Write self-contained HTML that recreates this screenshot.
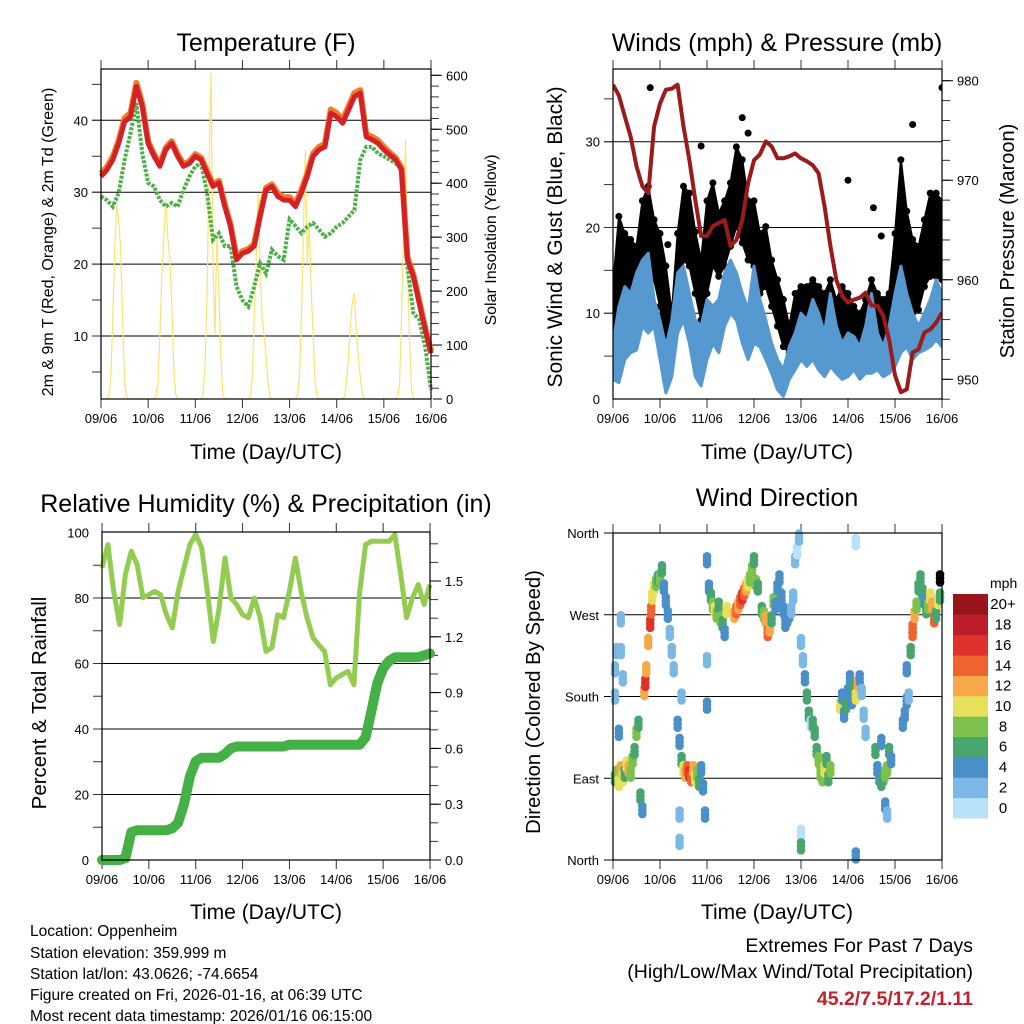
<!DOCTYPE html>
<html><head><meta charset="utf-8"><style>
html,body{margin:0;padding:0;background:#fff}
svg{display:block;font-family:"Liberation Sans",Arial,sans-serif}
</style></head><body>
<svg id="s" width="1024" height="1024" viewBox="0 0 1024 1024" xmlns="http://www.w3.org/2000/svg">
<rect width="1024" height="1024" fill="#fff"/>
<text x="266" y="51" font-size="25" text-anchor="middle">Temperature (F)</text>
<text x="777" y="51" font-size="25" text-anchor="middle">Winds (mph) &amp; Pressure (mb)</text>
<text x="266" y="512" font-size="25" text-anchor="middle">Relative Humidity (%) &amp; Precipitation (in)</text>
<text x="777" y="506" font-size="25" text-anchor="middle">Wind Direction</text>
<text x="266" y="459" font-size="21" text-anchor="middle">Time (Day/UTC)</text>
<text x="777" y="459" font-size="21" text-anchor="middle">Time (Day/UTC)</text>
<text x="266" y="919" font-size="21" text-anchor="middle">Time (Day/UTC)</text>
<text x="777" y="919" font-size="21" text-anchor="middle">Time (Day/UTC)</text>
<text transform="translate(53,242) rotate(-90)" font-size="16" text-anchor="middle">2m &amp; 9m T (Red, Orange) &amp; 2m Td (Green)</text>
<text transform="translate(496,240) rotate(-90)" font-size="16" text-anchor="middle">Solar Insolation (Yellow)</text>
<text transform="translate(562,237) rotate(-90)" font-size="21" text-anchor="middle">Sonic Wind &amp; Gust (Blue, Black)</text>
<text transform="translate(1014,241) rotate(-90)" font-size="20" text-anchor="middle">Station Pressure (Maroon)</text>
<text transform="translate(46,703) rotate(-90)" font-size="20.5" text-anchor="middle">Percent &amp; Total Rainfall</text>
<text transform="translate(540,702) rotate(-90)" font-size="20.3" text-anchor="middle">Direction (Colored By Speed)</text>
<g font-size="15.5">
<text x="30" y="936">Location: Oppenheim</text>
<text x="30" y="958">Station elevation: 359.999 m</text>
<text x="30" y="979">Station lat/lon: 43.0626; -74.6654</text>
<text x="30" y="1000">Figure created on Fri, 2026-01-16, at 06:39 UTC</text>
<text x="30" y="1021">Most recent data timestamp: 2026/01/16 06:15:00</text>
</g>
<g font-size="19.5" text-anchor="end">
<text x="973" y="952">Extremes For Past 7 Days</text>
<text x="973" y="978">(High/Low/Max Wind/Total Precipitation)</text>
<text x="973" y="1005" fill="#c8202a" font-weight="bold">45.2/7.5/17.2/1.11</text>
</g>
</svg>
<script>
const hours3=[0,3,6,9,12,15,18,21,24,27,30,33,36,39,42,45,48,51,54,57,60,63,66,69,72,75,78,81,84,87,90,93,96,99,102,105,108,111,114,117,120,123,126,129,132,135,138,141,144,147,150,153,156,159,162,165,168];
const dayLabels=["09/06","10/06","11/06","12/06","13/06","14/06","15/06","16/06"];
const temp2m=[32.2,33.1,34.5,36.8,39.8,40.5,44.7,41.9,36.8,35,33.6,35.9,36.8,35,33.6,34,35,34.5,32.6,30.8,31.3,28,25.2,20.6,21.5,21.8,22.5,26.6,30.3,30.8,29.4,28.9,28.9,28,29.9,32.2,35,35.9,36.3,41,40.5,39.6,41.4,43.3,43.8,37.7,37.3,36.8,35.9,35.2,34.5,33.1,20.6,18.3,14.6,10.9,7.6];
const temp9m=[32.6,33.5,34.9,37.2,40.3,41,45.2,42.3,37.1,35.3,33.9,36.2,37.1,35.3,33.9,34.3,35.3,34.8,32.9,31.1,31.6,28.3,25.5,20.9,21.8,22.1,22.8,26.9,30.6,31.1,29.8,29.3,29.3,28.4,30.3,32.6,35.4,36.3,36.7,41.5,41,40.1,41.9,43.8,44.2,38.1,37.7,37.2,36.3,35.5,34.8,33.4,21,18.6,14.9,11.2,7.9];
const dewpoint=[29.4,28.9,28,29.9,34.5,38.2,42.4,35.4,31.3,30.8,28.9,28,28.5,28,30.3,32.2,33.6,34,29.9,23.4,24.3,22.5,22.5,16.9,15,14.1,16.9,20.1,18.7,22,21.1,20.6,26.2,25.3,24.3,25.2,25.7,24.8,23.8,24.3,25.2,25.7,26.6,27.5,34.5,36.3,36.3,35.4,35,34.5,34,33.6,19.7,13.2,12.3,8.6,2.5];
const solar=[0,0,0,0,5,40,150,280,360,330,280,150,30,5,0,0,0,0,0,0,0,0,0,0,0,0,0,0,5,30,120,230,300,370,300,260,180,60,10,0,0,0,0,0,0,0,0,0,0,0,0,0,10,60,200,420,604,250,120,300,200,80,10,0,0,0,0,0,0,0,0,0,0,0,0,0,5,40,150,260,381,250,150,120,80,30,5,0,0,0,0,0,0,0,0,0,0,0,0,0,5,40,150,300,462,250,330,200,120,30,5,0,0,0,0,0,0,0,0,0,0,0,0,0,5,30,80,140,180,196,120,80,40,10,0,0,0,0,0,0,0,0,0,0,0,0,0,0,0,0,0,5,30,150,300,480,250,120,20,0,0,0,0,0,0,0,0,0,0,0];
const pressure=[979.6,978.5,976.4,974.4,971.4,969.4,968.7,975.4,977.7,979.1,979.2,979.6,975.4,972,968,964.4,964.4,965.4,965.7,966,963.4,964,966,969.7,972,972.6,973.9,973.4,972.2,972.2,972.4,972.7,972.2,971.9,971.5,970.7,967.4,963.4,960,958.4,957.7,958,958.2,958.7,957.4,957.4,956.4,954,950.4,948.7,949,952.7,953,954.7,955,955.7,956.7];
const windLo=[2.3,1.9,4.6,5.4,5.7,8.5,7.7,8.5,4.6,0.7,2.6,7.7,9.2,6.5,2.6,1.5,4.6,6.5,5.4,8.5,10,9.2,6.5,4.6,6.5,6.1,4.6,3,1.1,0.3,2.3,3.4,4.6,3.8,4.6,3.4,2.6,3.8,3,2.3,2.6,3.4,2.3,3,3,3.4,2.6,3,3.8,5.4,6.1,4.6,5.4,5.7,6.1,6.9,6.1];
const windHi=[6.5,10.8,13.1,12.3,14.7,16.2,17,11.6,9.2,6.1,9.2,14.7,15.5,12.3,9.2,8.5,11.6,10.8,11.6,14.7,16.2,14.7,12.3,10.4,15.5,11.6,9.2,6.5,4.6,3.4,6.1,7.7,10,9.2,11.6,10,7.7,12.3,8.5,6.5,7.7,7.3,6.1,8.5,12.3,7.7,6.1,8.5,12.3,15.5,12.3,10,8.5,10,11.6,13.9,12.3];
const gustLo=[4.6,7.7,10,11.6,12.3,14.3,16.2,13.9,10.8,5.4,4.6,12.3,16.2,15.5,12.3,9.2,12.3,15.5,14.3,15.5,17.8,20.1,18.2,16.2,15.5,12.3,13.1,10.8,8.5,6.1,5.4,7.7,8.5,8.5,9.2,8.5,7.7,8.5,6.9,7.3,7.7,7.7,6.5,6.1,7.7,6.5,6.5,7.3,9.2,14.3,12.3,10,10.4,13.1,14.3,14.3,13.9];
const gustHi=[13.1,21.3,19.3,18.6,17.8,23.1,24.8,20.9,19.3,15.5,10,19.3,24.8,24,19.5,16.2,23.1,25.2,21.7,23.1,25.2,29.4,27.9,23.1,23.1,19.3,20.1,16.2,13.9,11.6,8.5,12.3,13.1,13.1,13.9,13.1,12.3,13.9,11.6,13.1,12.3,10.8,10,11.6,13.9,12.3,11.6,12.3,19.3,27.9,21.9,18.6,17.8,20.9,24,24,23.1];
const gustOutlierHours=[19,45,66,69,120,133,153,168,28,137];
const gustOutlierValues=[36.3,29.5,32.8,31,25.5,22.3,32,36.3,18,19];
const rhPercent=[89.2,96.3,82,71.9,87.2,94.3,90.2,80.1,81,82,81,74.9,70.9,82,89.2,96.3,99.4,95.4,82,66.7,76.9,92.2,80,78,74.9,74,80,74,63.7,64.8,74.9,74,82,92.2,82,74,67.9,65.7,63.7,53.5,55.6,56.6,57.6,53.5,82,96.3,97.3,97.3,97.3,97.3,99.4,87.2,74,80,84.1,78,84.1];
const rainTotal=[0,0,0,0,0.01,0.15,0.16,0.16,0.16,0.16,0.16,0.16,0.17,0.2,0.3,0.45,0.53,0.55,0.55,0.55,0.55,0.57,0.6,0.61,0.61,0.61,0.61,0.61,0.61,0.61,0.61,0.61,0.62,0.62,0.62,0.62,0.62,0.62,0.62,0.62,0.62,0.62,0.62,0.62,0.62,0.66,0.8,0.95,1.03,1.07,1.09,1.09,1.09,1.09,1.09,1.1,1.11];
const dirHours=[1,2,3,4,5,6,7,8,9,10,11,12,13,14,15,1,2,4,4,1,5,3,16,16.5,17,18,19,19.5,20,21,22,23,24,25,26,27,28,29,30,31,33,34,35,36,37,38,39,40,41,42,43,44,45,46,47,34,34,35,49,50,51,52,53,54,55,56,57,48,48,48,58,62,63,64,65,66,67,68,69,70,71,72,73,74,76,77,78,79,80,81,82,83,84,85,86,87,88,89,90,91,92,93,94,95,96,97,98,99,100,101,96,96,102,103,104,105,106,107,108,109,110,111,116,117,118,119,120,121,122,123,124,125,126,127,128,129,124,124,134,135,136,137,138,139,140,141,142,139,140,137,148,149,150,151,150,152,153,153,154,155,156,157,158,159,160,161,162,163,164,165,166,167,167];
const dirDegrees=[90,95,85,100,90,95,105,100,95,110,120,140,150,70,55,180,230,265,230,210,200,140,185,195,210,240,260,275,290,300,305,310,310,320,300,285,270,250,230,210,150,130,110,100,95,100,95,90,100,90,95,85,100,80,50,20,50,180,300,290,280,275,270,280,265,260,250,330,220,170,275,270,275,280,285,290,295,300,305,310,320,330,305,300,275,270,265,250,255,265,285,280,300,310,290,275,260,265,270,275,290,330,340,355,240,220,200,180,160,150,30,15,150,140,120,110,95,90,100,110,90,100,170,180,160,170,185,200,175,190,180,195,200,185,160,140,350,5,120,100,90,85,90,95,100,120,110,60,50,130,150,160,175,180,210,230,250,255,270,280,300,310,295,285,275,280,290,280,265,270,285,290,310];
const dirSpeeds=[6,8,10,12,11,6,10,12,9,8,7,8,7,6,4,2,3,2,3,2,2,4,12,16,12,13,16,14,10,10,8,6,8,6,4,4,4,3,2,2,4,4,6,10,12,14,16,14,12,10,8,6,4,4,4,2,2,2,4,6,8,10,8,6,8,6,4,4,2,4,10,12,14,12,14,16,14,12,10,8,8,6,8,6,6,8,12,14,12,6,8,4,4,4,4,4,4,4,4,2,2,2,0,2,2,2,4,6,6,1,0,6,6,6,6,8,8,8,10,6,6,8,10,4,4,6,4,4,4,6,10,12,4,2,2,2,1,4,6,4,4,6,6,8,8,6,4,4,2,4,4,4,4,2,4,6,14,14,12,8,6,6,6,4,6,8,10,12,14,6,10,6];
const speedColors=["#b8e2f8","#7bb8e3","#4a8fc8","#49a56f","#7dc24d","#e6e05a","#f7a848","#ef6330","#e0322d","#be1e2a","#9a141c"];
const colorbarLabels=["0","2","4","6","8","10","12","14","16","18","20+"];

const NS="http://www.w3.org/2000/svg";
const svg=document.getElementById('s');
function el(tag,attrs,parent){const e=document.createElementNS(NS,tag);for(const k in attrs)e.setAttribute(k,attrs[k]);(parent||svg).appendChild(e);return e;}
function lin(d0,d1,r0,r1){return v=>r0+(v-d0)*(r1-r0)/(d1-d0);}
function pathFrom(xs,ys,fx,fy){return xs.map((x,i)=>(i?'L':'M')+fx(x).toFixed(1)+','+fy(ys[i]).toFixed(1)).join('');}

const P1={x0:101,x1:431,y0:69,y1:399};
const P2={x0:613,x1:942,y0:69,y1:399};
const P3={x0:102,x1:430,y0:532,y1:860};
const P4={x0:613,x1:942,y0:533,y1:860};

function frame(P,name,gridVals,fy,leftTicks,leftLabels,labelFmt,minor,rightTicks,rightFy,rightLabels,rightMinor,rightFmt){
  const g=el('g',{});
  
  
  const fx=lin(0,168,P.x0,P.x1);
  gridVals.forEach(v=>{const l=el('line',{x1:P.x0-9,x2:P.x1,y1:fy(v),y2:fy(v),stroke:'#000','stroke-width':1},g);
    
    });
  minor.forEach(v=>{el('line',{x1:P.x0-9,x2:P.x0,y1:fy(v),y2:fy(v),stroke:'#333'},g);});
  leftLabels.forEach((v,i)=>{const t=el('text',{x:P.x0-13,y:fy(v)+5,'font-size':13,'text-anchor':'end'},g);t.textContent=labelFmt(v);
    
    });
  if(rightFy){
    rightMinor.forEach(v=>{el('line',{x1:P.x1,x2:P.x1+8,y1:rightFy(v),y2:rightFy(v),stroke:'#333'},g);});
    rightLabels.forEach(v=>{const t=el('text',{x:P.x1+15,y:rightFy(v)+5,'font-size':13},g);t.textContent=rightFmt(v);
      
      
      el('line',{x1:P.x1,x2:P.x1+11,y1:rightFy(v),y2:rightFy(v),stroke:'#000'},g);});
  }
  dayLabels.forEach((d,i)=>{const x=fx(i*24);
    el('line',{x1:x,x2:x,y1:P.y0-9,y2:P.y0,stroke:'#333'},g);
    el('line',{x1:x,x2:x,y1:P.y1,y2:P.y1+9,stroke:'#333'},g);
    const t=el('text',{x:x,y:P.y1+24,'font-size':13,'text-anchor':'middle'},g);t.textContent=d;
    
    });
  return g;
}
function border(P){el('rect',{x:P.x0,y:P.y0,width:P.x1-P.x0,height:P.y1-P.y0,fill:'none',stroke:'#000','stroke-width':1.2});}
function range(a,b,s){const r=[];for(let v=a;v<=b+1e-9;v+=s)r.push(+v.toFixed(3));return r;}

// Panel 1
{const P=P1,fx=lin(0,168,P.x0,P.x1),fy=lin(10,40,336,120.3),fs=lin(0,600,399,75.3);
frame(P,'temperature',[10,20,30,40],fy,[],[10,20,30,40],v=>v,range(5,45,5),true,fs,range(0,600,100),range(0,600,20),v=>v);
const solarHours=solar.map((_,i)=>i);
let e=el('path',{d:pathFrom(solarHours,solar,fx,fs),fill:'none',stroke:'#f8e470','stroke-width':1.2});


e=el('path',{d:pathFrom(hours3,dewpoint,fx,fy),fill:'none',stroke:'#4db046','stroke-width':4,'stroke-dasharray':'3 1.5'});


e=el('path',{d:pathFrom(hours3,temp9m,fx,fy),fill:'none',stroke:'#f37a2b','stroke-width':6,'stroke-linejoin':'round'});


e=el('path',{d:pathFrom(hours3,temp2m,fx,fy),fill:'none',stroke:'#d42027','stroke-width':5,'stroke-linejoin':'round'});


border(P);}

// Panel 2
{const P=P2,fx=lin(0,168,P.x0,P.x1),fy=lin(0,30,399,141.7),fp=lin(950,980,379.3,80.7);
frame(P,'winds',[10,20,30],fy,[],[0,10,20,30],v=>v,range(5,35,5),true,fp,[950,960,970,980],range(948,980,2),v=>v);
const cp=el('clipPath',{id:'c2'});el('rect',{x:P.x0,y:P.y0,width:P.x1-P.x0,height:P.y1-P.y0},cp);
const g=el('g',{'clip-path':'url(#c2)'});
const band=(lo,hi)=>pathFrom(hours3,hi,fx,fy)+pathFrom(hours3.slice().reverse(),lo.slice().reverse(),fx,fy).replace('M','L')+'Z';
let e=el('path',{d:band(gustLo,gustHi),fill:'#000',stroke:'#000','stroke-width':2,'stroke-linejoin':'round'},g);


hours3.forEach((h,i)=>{[gustLo[i],gustHi[i]].forEach(v=>{const c=el('circle',{cx:fx(h),cy:fy(v),r:3.5,fill:'#000'},g);
  
  });});
gustOutlierHours.forEach((h,i)=>{const c=el('circle',{cx:fx(h),cy:fy(gustOutlierValues[i]),r:3.5,fill:'#000'},g);
  
  });
e=el('path',{d:band(windLo,windHi),fill:'#5599d0',stroke:'#5599d0','stroke-width':3,'stroke-linejoin':'round'},g);


e=el('path',{d:pathFrom(hours3,pressure,fx,fp),fill:'none',stroke:'#9b1b1b','stroke-width':4,'stroke-linejoin':'round'},g);


border(P);}

// Panel 3
{const P=P3,fx=lin(0,168,P.x0,P.x1),fy=lin(0,100,860,532.5),fr=lin(0,1.5,860,581);
frame(P,'humidity',[20,40,60,80],fy,[],[0,20,40,60,80,100],v=>v,range(10,90,10),true,fr,range(0,1.5,0.3),range(0,1.7,0.1),v=>v.toFixed(1));
let e=el('path',{d:pathFrom(hours3,rhPercent,fx,fy),fill:'none',stroke:'#92cc50','stroke-width':5,'stroke-linejoin':'round'});


e=el('path',{d:pathFrom(hours3,rainTotal,fx,fr),fill:'none',stroke:'#45b046','stroke-width':10,'stroke-linejoin':'round','stroke-linecap':'round'});


border(P);}

// Panel 4
{const P=P4,fx=lin(0,168,P.x0,P.x1),fy=lin(0,360,860,533);
const g=el('g',{});


[90,180,270].forEach(v=>el('line',{x1:P.x0-9,x2:P.x1,y1:fy(v),y2:fy(v),stroke:'#000'},g));
[0,360].forEach(v=>el('line',{x1:P.x0-9,x2:P.x0,y1:fy(v),y2:fy(v),stroke:'#000'},g));
const names=['North','East','South','West','North'];
[0,90,180,270,360].forEach((v,i)=>{const t=el('text',{x:P.x0-14,y:fy(v)+5,'font-size':13,'text-anchor':'end'},g);t.textContent=names[i];});
dayLabels.forEach((d,i)=>{const x=fx(i*24);
  el('line',{x1:x,x2:x,y1:P.y0-9,y2:P.y0,stroke:'#333'},g);
  el('line',{x1:x,x2:x,y1:P.y1,y2:P.y1+9,stroke:'#333'},g);
  const t=el('text',{x:x,y:P.y1+24,'font-size':13,'text-anchor':'middle'},g);t.textContent=d;});
dirHours.forEach((h,i)=>{const idx=Math.min(10,Math.floor(dirSpeeds[i]/2));
  [-4,0,4].forEach(dy=>{const c=el('circle',{cx:fx(h),cy:fy(dirDegrees[i])+dy,r:4.3,fill:speedColors[idx]});
  
  });});
border(P);
const cb=el('g',{});


const t=el('text',{x:990,y:588,'font-size':14},cb);t.textContent='mph';
const h=224/11;
colorbarLabels.forEach((l,i)=>{const y=594+(10-i)*h;
  el('rect',{x:953,y:y,width:35,height:h+0.5,fill:speedColors[i]},cb);
  const tt=el('text',{x:1003,y:y+h/2+5,'font-size':15,'text-anchor':'middle'},cb);tt.textContent=l;});
}
</script>
</body></html>
